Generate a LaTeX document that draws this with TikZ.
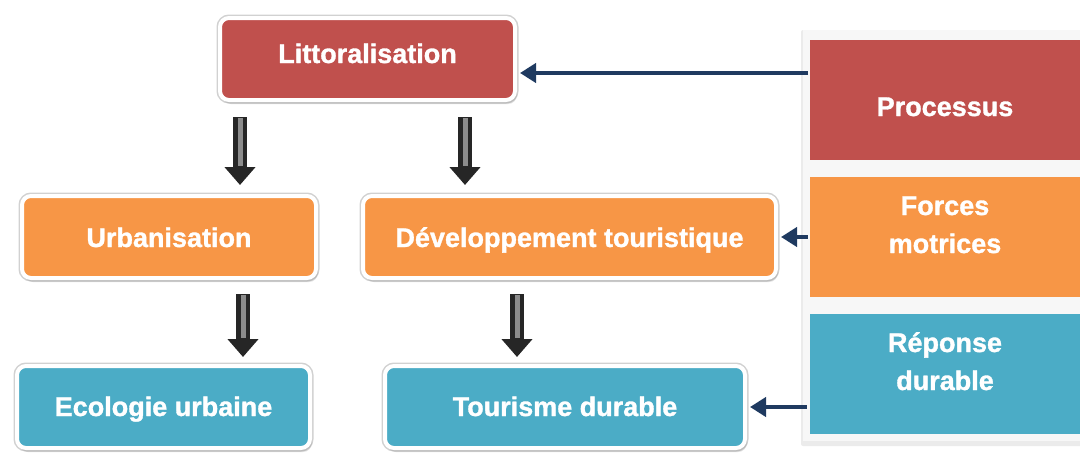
\documentclass[tikz,border=0pt]{standalone}
\usepackage{fontspec}
\setmainfont{Liberation Sans}[BoldFeatures={FakeBold=1.2}]
\usetikzlibrary{arrows.meta,shadows}
\definecolor{cred}{HTML}{C0504D}
\definecolor{corange}{HTML}{F79646}
\definecolor{cblue}{HTML}{4BACC6}
\definecolor{cnavy}{HTML}{1F3A60}
% text whose baseline sits #1 below the node centre
\newcommand\basetxt[2]{\smash{\raisebox{-#1}{#2}}}
\newcommand\twolines[2]{\smash{\raisebox{-16pt}{\begin{tabular}[b]{@{}c@{}}#1\\#2\end{tabular}}}}
\tikzset{
  box/.style={rounded corners=9pt, draw=white, line width=4pt,
    preaction={draw=black!18, line width=7pt},
    drop shadow={opacity=0.25, shadow xshift=2pt, shadow yshift=-4pt},
    text=white, font=\fontsize{27}{32}\selectfont\bfseries,
    minimum height=82pt, inner sep=0pt, align=center},
  panel/.style={rectangle, text=white, font=\fontsize{27}{38}\selectfont\bfseries,
    minimum width=270pt, minimum height=120pt, inner sep=0pt, align=center},
  navyarrow/.style={draw=cnavy, line width=4pt, -{Triangle[length=16pt,width=19pt]}},
  blockarrow/.style={draw=black!85, line width=14pt, -{Triangle[length=18pt,width=30pt]}},
  blockshine/.style={draw=black!45, line width=5pt}
}
\begin{document}
\begin{tikzpicture}[x=1pt,y=-1pt]
\useasboundingbox (0,0) rectangle (1080,455);
% right panel frame
\fill[black!8, rounded corners=2pt] (801,30) rectangle (1090,446);
\fill[white!97!black] (803,30) rectangle (1090,441);
\node[panel, fill=cred] (proc) at (945,100) {\basetxt{16pt}{Processus}};
\node[panel, fill=corange] (forc) at (945,237) {\twolines{Forces}{motrices}};
\node[panel, fill=cblue] (rep) at (945,374) {\twolines{Réponse}{durable}};
% boxes
\node[box, fill=cred, minimum width=295pt] (lit) at (367.5,59) {\basetxt{4pt}{Littoralisation}};
\node[box, fill=corange, minimum width=294pt] (urb) at (169,237) {\basetxt{10pt}{Urbanisation}};
\node[box, fill=corange, minimum width=413pt] (dev) at (569.5,237) {\basetxt{10pt}{Développement touristique}};
\node[box, fill=cblue, minimum width=293pt] (eco) at (163.5,407) {\basetxt{9pt}{Ecologie urbaine}};
\node[box, fill=cblue, minimum width=360pt] (tour) at (565,407) {\basetxt{9pt}{Tourisme durable}};
% navy arrows
\coordinate (a1) at (808,73);
\draw[navyarrow] (a1) -- ([xshift=3pt]lit.east |- a1);
\draw[navyarrow] ([xshift=-2pt]forc.west) -- ([xshift=3pt]dev.east);
\draw[navyarrow] ([xshift=-3pt]rep.west |- tour.east) -- ([xshift=3pt]tour.east);
% block arrows
\coordinate (b1) at (240,0);
\coordinate (b2) at (465,0);
\coordinate (b3) at (243,0);
\coordinate (b4) at (517,0);
\draw[blockarrow, shorten <=15pt, shorten >=9pt] (lit.south -| b1) -- (urb.north -| b1);
\draw[blockarrow, shorten <=15pt, shorten >=9pt] (lit.south -| b2) -- (dev.north -| b2);
\draw[blockarrow, shorten <=14pt, shorten >=7pt] (urb.south -| b3) -- (eco.north -| b3);
\draw[blockarrow, shorten <=14pt, shorten >=7pt] (dev.south -| b4) -- (tour.north -| b4);
\draw[blockshine, shorten <=16pt, shorten >=28pt] (lit.south -| b1) -- (urb.north -| b1);
\draw[blockshine, shorten <=16pt, shorten >=28pt] (lit.south -| b2) -- (dev.north -| b2);
\draw[blockshine, shorten <=15pt, shorten >=26pt] (urb.south -| b3) -- (eco.north -| b3);
\draw[blockshine, shorten <=15pt, shorten >=26pt] (dev.south -| b4) -- (tour.north -| b4);
\end{tikzpicture}
\end{document}
